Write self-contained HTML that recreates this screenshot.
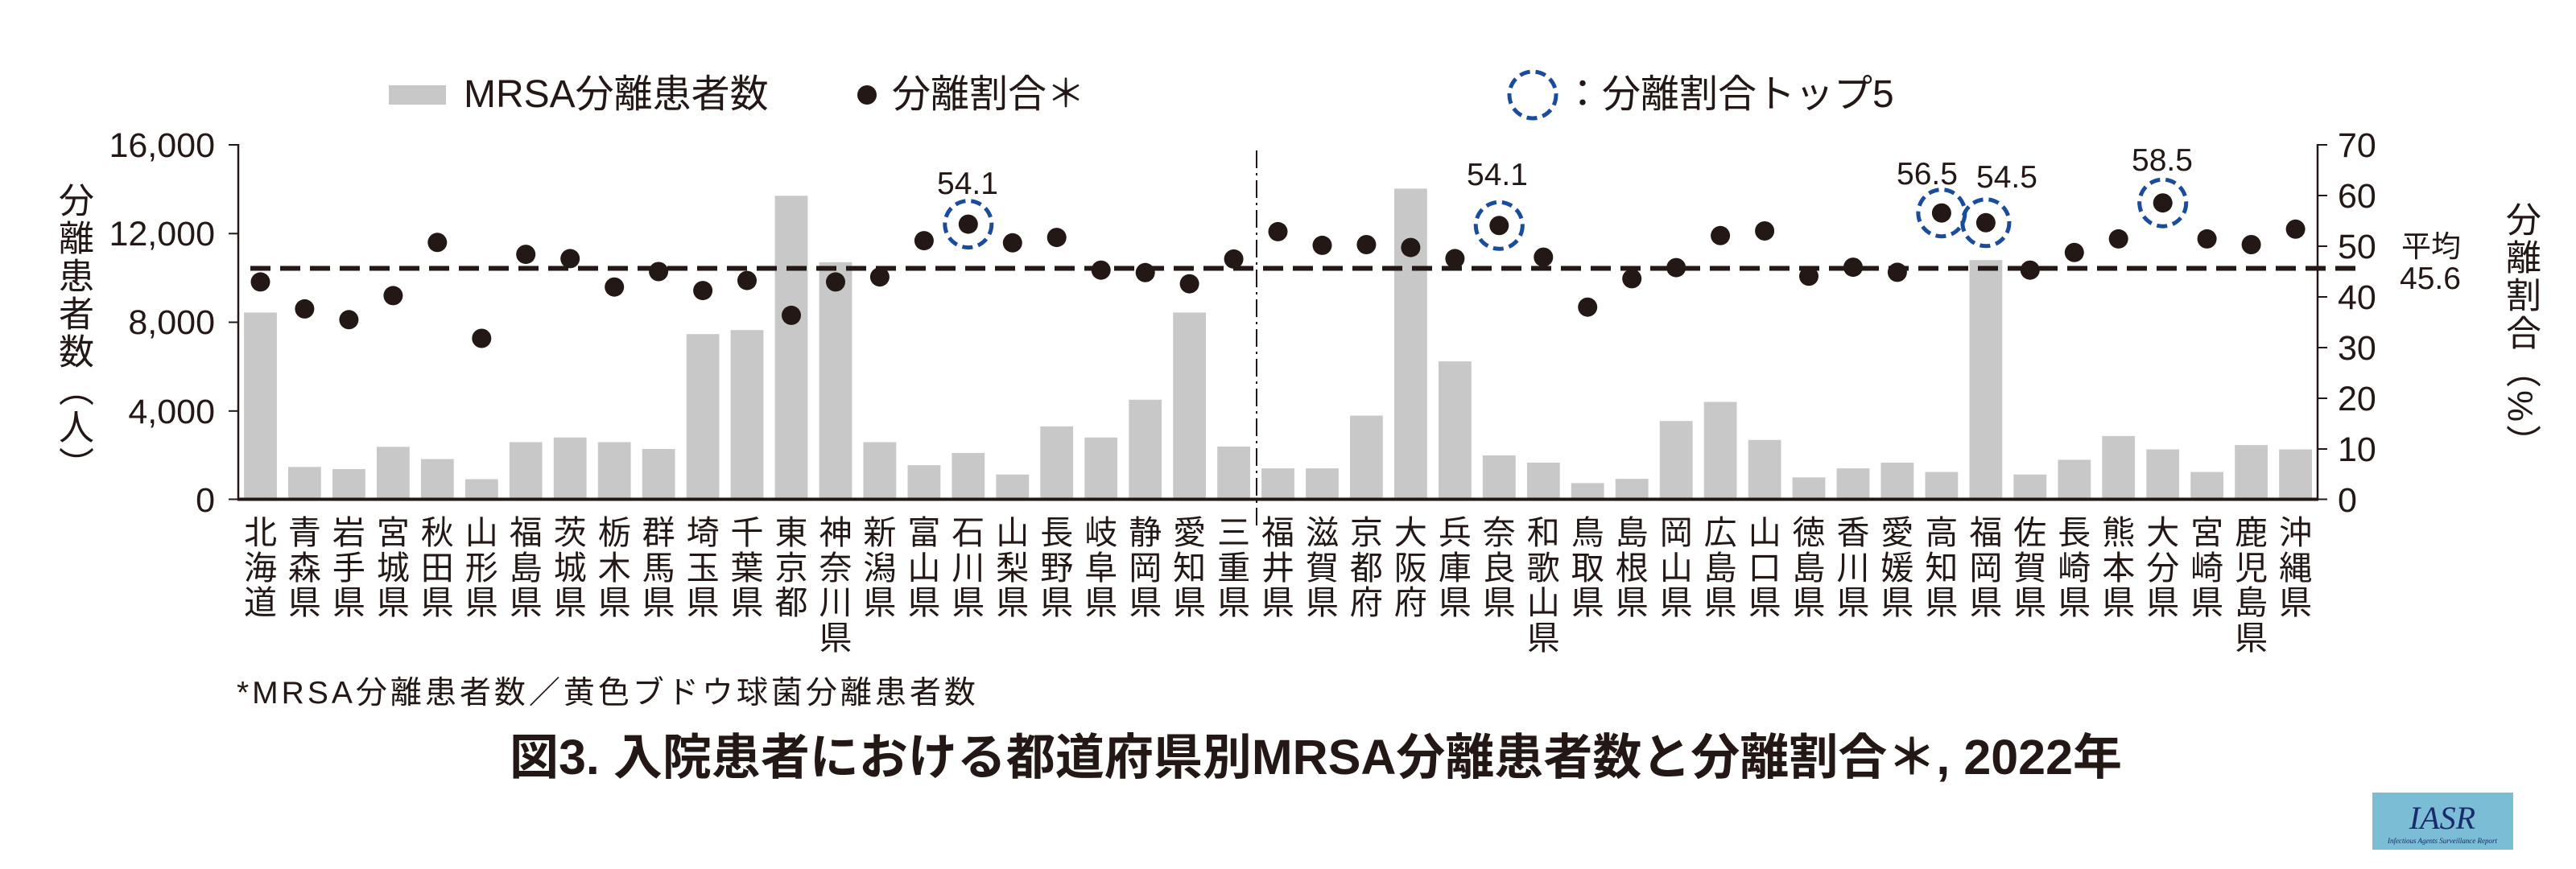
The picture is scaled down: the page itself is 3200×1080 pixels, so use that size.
<!DOCTYPE html>
<html><head><meta charset="utf-8"><style>
html,body{margin:0;padding:0;background:#fff}
body{width:3200px;height:1080px;position:relative;overflow:hidden;font-family:"Liberation Sans","Noto Sans CJK JP",sans-serif;color:#231815}
svg{position:absolute;left:0;top:0}
.pl{position:absolute;top:637px;width:42px;margin-left:-21px;font-size:41px;line-height:43.5px;word-break:break-all;text-align:center;font-family:"Noto Sans CJK JP",sans-serif}
.vt{position:absolute;writing-mode:vertical-rl;font-size:44px;letter-spacing:3px;font-family:"Liberation Sans","Noto Sans CJK JP",sans-serif}
.t{position:absolute;white-space:nowrap}
</style></head><body>
<svg width="3200" height="1080" xmlns="http://www.w3.org/2000/svg">
<g fill="#c8c8c8">
<rect x="303.1" y="388.4" width="40.8" height="232.1"/>
<rect x="358" y="580.3" width="40.8" height="40.2"/>
<rect x="413" y="583" width="40.8" height="37.5"/>
<rect x="468" y="555.3" width="40.8" height="65.2"/>
<rect x="522.9" y="570.5" width="40.8" height="50"/>
<rect x="577.9" y="595.5" width="40.8" height="25"/>
<rect x="632.8" y="549.5" width="40.8" height="71"/>
<rect x="687.8" y="543.7" width="40.8" height="76.8"/>
<rect x="742.8" y="549.5" width="40.8" height="71"/>
<rect x="797.7" y="558" width="40.8" height="62.5"/>
<rect x="852.7" y="415.2" width="40.8" height="205.3"/>
<rect x="907.6" y="410.2" width="40.8" height="210.3"/>
<rect x="962.6" y="243.3" width="40.8" height="377.2"/>
<rect x="1017.6" y="325.9" width="40.8" height="294.6"/>
<rect x="1072.5" y="549.5" width="40.8" height="71"/>
<rect x="1127.5" y="578.1" width="40.8" height="42.4"/>
<rect x="1182.4" y="562.9" width="40.8" height="57.6"/>
<rect x="1237.4" y="589.7" width="40.8" height="30.8"/>
<rect x="1292.3" y="529.9" width="40.8" height="90.6"/>
<rect x="1347.3" y="543.7" width="40.8" height="76.8"/>
<rect x="1402.3" y="496.8" width="40.8" height="123.7"/>
<rect x="1457.2" y="388.4" width="40.8" height="232.1"/>
<rect x="1512.2" y="554.9" width="40.8" height="65.6"/>
<rect x="1567.1" y="582.1" width="40.8" height="38.4"/>
<rect x="1622.1" y="582.1" width="40.8" height="38.4"/>
<rect x="1677" y="516.5" width="40.8" height="104"/>
<rect x="1732" y="234.4" width="40.8" height="386.1"/>
<rect x="1787" y="449.1" width="40.8" height="171.4"/>
<rect x="1841.9" y="566" width="40.8" height="54.5"/>
<rect x="1896.9" y="575" width="40.8" height="45.5"/>
<rect x="1951.8" y="600.4" width="40.8" height="20.1"/>
<rect x="2006.8" y="595.1" width="40.8" height="25.4"/>
<rect x="2061.8" y="523.2" width="40.8" height="97.3"/>
<rect x="2116.7" y="499.5" width="40.8" height="121"/>
<rect x="2171.7" y="546.8" width="40.8" height="73.7"/>
<rect x="2226.6" y="593.3" width="40.8" height="27.2"/>
<rect x="2281.6" y="582.1" width="40.8" height="38.4"/>
<rect x="2336.5" y="575" width="40.8" height="45.5"/>
<rect x="2391.5" y="586.6" width="40.8" height="33.9"/>
<rect x="2446.5" y="323.2" width="40.8" height="297.3"/>
<rect x="2501.4" y="589.7" width="40.8" height="30.8"/>
<rect x="2556.4" y="571.4" width="40.8" height="49.1"/>
<rect x="2611.3" y="541.9" width="40.8" height="78.6"/>
<rect x="2666.3" y="558.5" width="40.8" height="62"/>
<rect x="2721.2" y="586.6" width="40.8" height="33.9"/>
<rect x="2776.2" y="553.1" width="40.8" height="67.4"/>
<rect x="2831.2" y="558.5" width="40.8" height="62"/>
</g>
<!-- axes -->
<g stroke="#231815" fill="none">
<line x1="296" y1="179" x2="296" y2="621" stroke-width="2.5"/>
<line x1="2879" y1="179" x2="2879" y2="621" stroke-width="2.5"/>
<line x1="295" y1="620.5" x2="2880" y2="620.5" stroke-width="4"/>
<g stroke-width="2">
<line x1="284" y1="180" x2="296" y2="180"/><line x1="284" y1="290.3" x2="296" y2="290.3"/><line x1="284" y1="400.5" x2="296" y2="400.5"/><line x1="284" y1="510.8" x2="296" y2="510.8"/><line x1="284" y1="620.5" x2="296" y2="620.5"/>
<line x1="2879" y1="180" x2="2891" y2="180"/><line x1="2879" y1="243" x2="2891" y2="243"/><line x1="2879" y1="306" x2="2891" y2="306"/><line x1="2879" y1="369" x2="2891" y2="369"/><line x1="2879" y1="432" x2="2891" y2="432"/><line x1="2879" y1="495" x2="2891" y2="495"/><line x1="2879" y1="558" x2="2891" y2="558"/><line x1="2879" y1="620.5" x2="2891" y2="620.5"/>
</g>
<line x1="1561" y1="187" x2="1561" y2="655" stroke-width="2" stroke-dasharray="22 6 3 6"/>
<line x1="311" y1="333.5" x2="2926" y2="333.5" stroke-width="6" stroke-dasharray="25 12"/>
</g>
<!-- tick labels -->
<g font-family="Liberation Sans, sans-serif" font-size="43" fill="#231815">
<g text-anchor="end">
<text x="267" y="195">16,000</text><text x="267" y="305">12,000</text><text x="267" y="415">8,000</text><text x="267" y="526">4,000</text><text x="267" y="636">0</text>
</g>
<text x="2904" y="195">70</text><text x="2904" y="258">60</text><text x="2904" y="321">50</text><text x="2904" y="384">40</text><text x="2904" y="447">30</text><text x="2904" y="510">20</text><text x="2904" y="573">10</text><text x="2904" y="636">0</text>
</g>
<!-- dots -->
<g fill="#231815">
<circle cx="323.5" cy="350.4" r="12"/><circle cx="378.4" cy="383.9" r="12"/><circle cx="433.4" cy="397.3" r="12"/><circle cx="488.4" cy="367.4" r="12"/><circle cx="543.3" cy="301.3" r="12"/><circle cx="598.3" cy="420.5" r="12"/><circle cx="653.2" cy="316.1" r="12"/><circle cx="708.2" cy="321.4" r="12"/><circle cx="763.2" cy="356.7" r="12"/><circle cx="818.1" cy="337.5" r="12"/><circle cx="873.1" cy="361.1" r="12"/><circle cx="928" cy="348.6" r="12"/><circle cx="983" cy="391.9" r="12"/><circle cx="1038" cy="350.4" r="12"/><circle cx="1092.9" cy="344.2" r="12"/><circle cx="1147.9" cy="299.1" r="12"/><circle cx="1202.8" cy="278.6" r="12"/><circle cx="1257.8" cy="301.8" r="12"/><circle cx="1312.7" cy="295.1" r="12"/><circle cx="1367.7" cy="335.7" r="12"/><circle cx="1422.7" cy="338.8" r="12"/><circle cx="1477.6" cy="352.7" r="12"/><circle cx="1532.6" cy="321.9" r="12"/><circle cx="1587.5" cy="287.9" r="12"/><circle cx="1642.5" cy="304.9" r="12"/><circle cx="1697.4" cy="304" r="12"/><circle cx="1752.4" cy="307.6" r="12"/><circle cx="1807.4" cy="321.4" r="12"/><circle cx="1862.3" cy="280.3" r="12"/><circle cx="1917.3" cy="319.6" r="12"/><circle cx="1972.2" cy="381.7" r="12"/><circle cx="2027.2" cy="346.4" r="12"/><circle cx="2082.2" cy="332.6" r="12"/><circle cx="2137.1" cy="292.8" r="12"/><circle cx="2192.1" cy="287" r="12"/><circle cx="2247" cy="343.3" r="12"/><circle cx="2302" cy="332.1" r="12"/><circle cx="2356.9" cy="338.4" r="12"/><circle cx="2411.9" cy="264.7" r="12"/><circle cx="2466.9" cy="276.8" r="12"/><circle cx="2521.8" cy="335.7" r="12"/><circle cx="2576.8" cy="313.8" r="12"/><circle cx="2631.7" cy="296.9" r="12"/><circle cx="2686.7" cy="252.2" r="12"/><circle cx="2741.6" cy="296.9" r="12"/><circle cx="2796.6" cy="304" r="12"/><circle cx="2851.6" cy="284.8" r="12"/>
<circle cx="1077" cy="118" r="12"/>
</g>
<g fill="none" stroke="#1a4c9c" stroke-width="5" stroke-dasharray="13 7">
<circle cx="1202.8" cy="278.6" r="29"/><circle cx="1862.3" cy="280.3" r="29"/><circle cx="2411.9" cy="264.7" r="29"/><circle cx="2466.9" cy="276.8" r="29"/><circle cx="2686.7" cy="252.2" r="29"/>
<circle cx="1904" cy="118" r="29"/>
</g>
<g font-family="Liberation Sans, sans-serif" font-size="39" fill="#231815" text-anchor="middle">
<text x="1202" y="241">54.1</text><text x="1860" y="230">54.1</text><text x="2394" y="229">56.5</text><text x="2493" y="233">54.5</text><text x="2686" y="212">58.5</text>
</g>
<rect x="483" y="106" width="71" height="24" fill="#c8c8c8"/>
<!-- logo -->
<rect x="2947" y="985" width="175" height="71" fill="#7bbdd4"/>
<text x="3034" y="1030" text-anchor="middle" font-family="Liberation Serif, serif" font-style="italic" font-size="40" fill="#1a2a6c">IASR</text>
<text x="3034" y="1048" text-anchor="middle" font-family="Liberation Serif, serif" font-style="italic" font-size="9" fill="#1a2a6c">Infectious Agents Surveillance Report</text>
</svg>

<div class="t" style="left:576px;top:90px;font-size:48px;line-height:56px">MRSA分離患者数</div>
<div class="t" style="left:1108px;top:90px;font-size:48px;line-height:56px">分離割合＊</div>
<div class="t" style="left:1942px;top:90px;font-size:48px;line-height:56px">：分離割合トップ5</div>
<div class="t" style="left:2983px;top:286px;font-size:37px;line-height:42px">平均</div>
<div class="t" style="left:2981px;top:326px;font-size:39px;line-height:42px">45.6</div>
<div class="vt" style="left:58px;top:226px">分離患者数（人）</div>
<div class="vt" style="left:3098px;top:250px">分離割合（%）</div>

<div class="pl" style="left:323.5px">北海道</div>
<div class="pl" style="left:378.4px">青森県</div>
<div class="pl" style="left:433.4px">岩手県</div>
<div class="pl" style="left:488.4px">宮城県</div>
<div class="pl" style="left:543.3px">秋田県</div>
<div class="pl" style="left:598.3px">山形県</div>
<div class="pl" style="left:653.2px">福島県</div>
<div class="pl" style="left:708.2px">茨城県</div>
<div class="pl" style="left:763.2px">栃木県</div>
<div class="pl" style="left:818.1px">群馬県</div>
<div class="pl" style="left:873.1px">埼玉県</div>
<div class="pl" style="left:928px">千葉県</div>
<div class="pl" style="left:983px">東京都</div>
<div class="pl" style="left:1038px">神奈川県</div>
<div class="pl" style="left:1092.9px">新潟県</div>
<div class="pl" style="left:1147.9px">富山県</div>
<div class="pl" style="left:1202.8px">石川県</div>
<div class="pl" style="left:1257.8px">山梨県</div>
<div class="pl" style="left:1312.7px">長野県</div>
<div class="pl" style="left:1367.7px">岐阜県</div>
<div class="pl" style="left:1422.7px">静岡県</div>
<div class="pl" style="left:1477.6px">愛知県</div>
<div class="pl" style="left:1532.6px">三重県</div>
<div class="pl" style="left:1587.5px">福井県</div>
<div class="pl" style="left:1642.5px">滋賀県</div>
<div class="pl" style="left:1697.4px">京都府</div>
<div class="pl" style="left:1752.4px">大阪府</div>
<div class="pl" style="left:1807.4px">兵庫県</div>
<div class="pl" style="left:1862.3px">奈良県</div>
<div class="pl" style="left:1917.3px">和歌山県</div>
<div class="pl" style="left:1972.2px">鳥取県</div>
<div class="pl" style="left:2027.2px">島根県</div>
<div class="pl" style="left:2082.2px">岡山県</div>
<div class="pl" style="left:2137.1px">広島県</div>
<div class="pl" style="left:2192.1px">山口県</div>
<div class="pl" style="left:2247px">徳島県</div>
<div class="pl" style="left:2302px">香川県</div>
<div class="pl" style="left:2356.9px">愛媛県</div>
<div class="pl" style="left:2411.9px">高知県</div>
<div class="pl" style="left:2466.9px">福岡県</div>
<div class="pl" style="left:2521.8px">佐賀県</div>
<div class="pl" style="left:2576.8px">長崎県</div>
<div class="pl" style="left:2631.7px">熊本県</div>
<div class="pl" style="left:2686.7px">大分県</div>
<div class="pl" style="left:2741.6px">宮崎県</div>
<div class="pl" style="left:2796.6px">鹿児島県</div>
<div class="pl" style="left:2851.6px">沖縄県</div>

<div class="t" style="left:294px;top:838px;font-size:39px;line-height:48px;letter-spacing:4px">*MRSA分離患者数／黄色ブドウ球菌分離患者数</div>
<div class="t" style="left:633px;top:905px;font-size:61px;line-height:72px;font-weight:bold">図3. 入院患者における都道府県別MRSA分離患者数と分離割合＊, 2022年</div>
</body></html>
